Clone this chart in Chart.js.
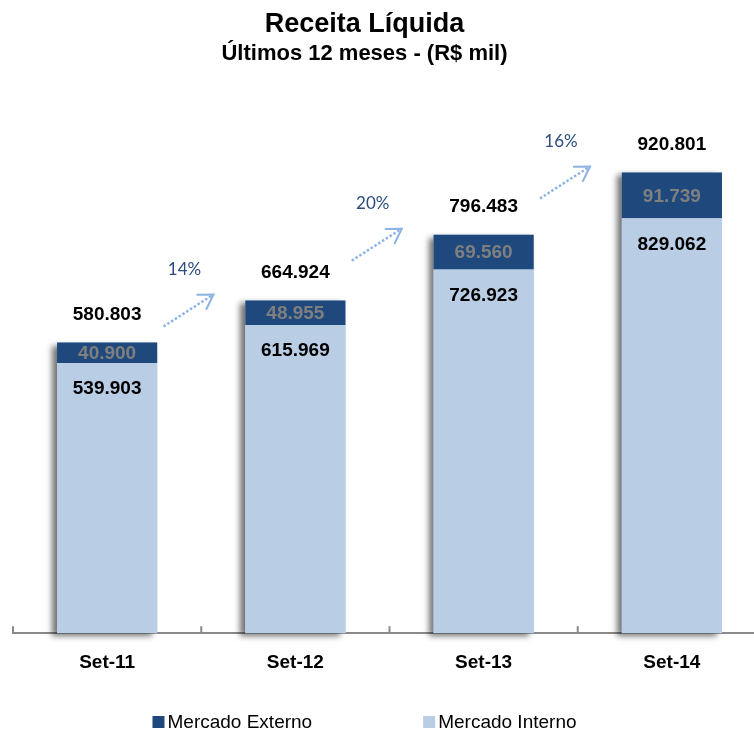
<!DOCTYPE html>
<html>
<head>
<meta charset="utf-8">
<script src="https://cdn.jsdelivr.net/npm/chart.js@4"></script>
<style>
  html, body { margin: 0; padding: 0; background: #fff; overflow: hidden; }
  #wrap { width: 754px; height: 733px; overflow: hidden; }
</style>
</head>
<body>
<div id="wrap"><canvas id="receita" width="766" height="733"></canvas></div>
<script>
// dados (R$ mil)
var periodos = ['Set-11', 'Set-12', 'Set-13', 'Set-14'];
var mercadoInterno = [539903, 615969, 726923, 829062];
var mercadoExterno = [40900, 48955, 69560, 91739];
var crescimento = [14, 20, 16];

var FONTE = '"Liberation Sans", Arial, sans-serif';
var COR_INTERNO = '#B9CDE5';
var COR_EXTERNO = '#1F497D';

function fmt(v) {
    return String(v).replace(/\B(?=(\d{3})+(?!\d))/g, '.');
}

// sombra, rótulos, setas e legenda
var rotulos = {
    id: 'rotulos',
    beforeDatasetsDraw: function (chart) {
        var ctx = chart.ctx;
        var mi = chart.getDatasetMeta(0), me = chart.getDatasetMeta(1);
        ctx.save();
        ctx.shadowColor = 'rgba(0,0,0,0.55)';
        ctx.shadowBlur = 6;
        ctx.shadowOffsetX = -5;
        ctx.shadowOffsetY = 3;
        ctx.fillStyle = COR_INTERNO;
        mi.data.forEach(function (b, i) {
            var topo = me.data[i].y;
            ctx.fillRect(b.x - b.width / 2, topo, b.width, b.base - topo);
        });
        ctx.restore();
    },
    afterDatasetsDraw: function (chart) {
        var ctx = chart.ctx;
        var xs = chart.scales.x;
        var area = chart.chartArea;
        var mi = chart.getDatasetMeta(0), me = chart.getDatasetMeta(1);
        var passo = xs.getPixelForValue(1) - xs.getPixelForValue(0);

        ctx.save();
        // marcas do eixo x entre categorias
        ctx.strokeStyle = '#8a8a8a';
        ctx.lineWidth = 2;
        for (var k = 0; k <= periodos.length; k++) {
            var tx = xs.getPixelForValue(0) - passo / 2 + k * passo;
            ctx.beginPath();
            ctx.moveTo(tx, area.bottom);
            ctx.lineTo(tx, area.bottom - 7);
            ctx.stroke();
        }

        ctx.textAlign = 'center';
        ctx.textBaseline = 'middle';
        ctx.font = 'bold 19px ' + FONTE;
        periodos.forEach(function (p, i) {
            var bi = mi.data[i], be = me.data[i];
            ctx.fillStyle = '#000';
            ctx.fillText(fmt(mercadoInterno[i]), bi.x, bi.y + 26);
            ctx.fillStyle = '#7F7F7F';
            ctx.fillText(fmt(mercadoExterno[i]), be.x, (be.y + be.base) / 2 + 1);
            ctx.fillStyle = '#000';
            ctx.fillText(fmt(mercadoInterno[i] + mercadoExterno[i]), be.x, be.y - 28);
        });

        // setas de crescimento
        crescimento.forEach(function (g, i) {
            var px = xs.getPixelForValue(i) + 0.565 * passo;
            var py = me.data[i + 1].y - 6;
            var sx = px - 50, sy = py + 32;
            var ang = Math.atan2(py - sy, px - sx);
            ctx.strokeStyle = '#8DB4E2';
            ctx.lineWidth = 2.5;
            ctx.setLineDash([2.5, 2]);
            ctx.beginPath();
            ctx.moveTo(sx, sy);
            ctx.lineTo(px, py);
            ctx.stroke();
            ctx.setLineDash([]);
            ctx.lineWidth = 2;
            ctx.beginPath();
            ctx.moveTo(px - 17 * Math.cos(ang - 0.55), py - 17 * Math.sin(ang - 0.55));
            ctx.lineTo(px, py);
            ctx.lineTo(px - 17 * Math.cos(ang + 0.55), py - 17 * Math.sin(ang + 0.55));
            ctx.stroke();
            ctx.fillStyle = '#2A4D7C';
            ctx.font = '17px Lato, "Open Sans", sans-serif';
            ctx.fillText(g + '%', px - 29, py - 25);
        });
        ctx.restore();
    },
    afterDraw: function (chart) {
        var ctx = chart.ctx;
        var tb = chart.titleBlock;
        var centro = tb.left + tb.width / 2;
        var itens = chart.data.datasets.slice().reverse();
        ctx.save();
        ctx.font = '19px ' + FONTE;
        ctx.textBaseline = 'middle';
        ctx.textAlign = 'left';
        var larg = itens.map(function (d) { return 15 + ctx.measureText(d.label).width; });
        var total = larg[0] + larg[1] + 111;
        var x = centro - total / 2;
        var y = 722;
        itens.forEach(function (d, i) {
            ctx.fillStyle = d.backgroundColor;
            ctx.fillRect(x, y - 6, 12, 12);
            ctx.fillStyle = '#000';
            ctx.fillText(d.label, x + 15, y + 1);
            x += larg[i] + 111;
        });
        ctx.restore();
    }
};

new Chart(document.getElementById('receita'), {
    type: 'bar',
    data: {
        labels: periodos,
        datasets: [
            { label: 'Mercado Interno', data: mercadoInterno, backgroundColor: COR_INTERNO },
            { label: 'Mercado Externo', data: mercadoExterno, backgroundColor: COR_EXTERNO }
        ]
    },
    options: {
        responsive: false,
        animation: false,
        layout: { padding: { left: -37, right: 0, top: 0, bottom: 41 } },
        datasets: { bar: { categoryPercentage: 1, barPercentage: 0.532 } },
        scales: {
            x: {
                stacked: true,
                grid: { display: false, drawTicks: false },
                border: { color: '#8a8a8a', width: 2 },
                ticks: { color: '#000', padding: 18, font: { family: FONTE, size: 19, weight: 'bold' } }
            },
            y: {
                stacked: true,
                min: 0,
                max: 1100000,
                grid: { display: false, drawTicks: false },
                border: { display: false },
                ticks: { display: false },
                afterFit: function (s) { s.width = 50; }
            }
        },
        plugins: {
            legend: { display: false },
            tooltip: { enabled: false },
            title: {
                display: true,
                text: 'Receita Líquida',
                color: '#000',
                font: { family: FONTE, size: 27, weight: 'bold' },
                padding: { top: 8, bottom: 0 }
            },
            subtitle: {
                display: true,
                text: 'Últimos 12 meses - (R$ mil)',
                color: '#000',
                font: { family: FONTE, size: 22, weight: 'bold' },
                padding: { top: 0, bottom: 16 }
            }
        }
    },
    plugins: [rotulos]
});
</script>
</body>
</html>
